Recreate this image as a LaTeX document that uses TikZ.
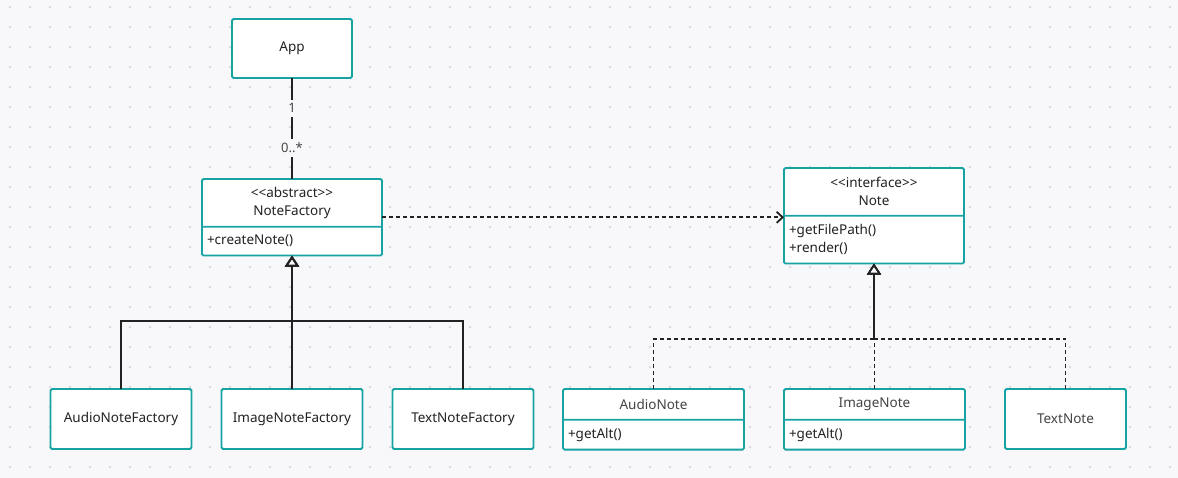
\documentclass[tikz,border=0pt]{standalone}
\usepackage{fontspec}
\setmainfont{Noto Sans}
\usetikzlibrary{positioning,arrows.meta,shapes.multipart}
\definecolor{canvas}{HTML}{F8F8FA}
\definecolor{dotc}{HTML}{D9D9DE}
\definecolor{tealc}{HTML}{17A3A3}
\definecolor{ink}{HTML}{222222}
\definecolor{soft}{HTML}{444444}
\newcommand\stereo[1]{<\kern0pt<#1>\kern0pt>}

\begin{document}
\begin{tikzpicture}[x=1pt, y=-1pt, font=\fontsize{13.5}{18}\selectfont, text=ink]
\tikzstyle{cls}=[draw=tealc, line width=1.8pt, fill=white, rounded corners=1.5pt, inner sep=0pt, outer sep=0pt]
\tikzstyle{box}=[cls, minimum width=141pt, minimum height=60pt]
\tikzstyle{umlcls}=[cls, rectangle split, rectangle split parts=2]
\tikzstyle{mult}=[fill=canvas, inner sep=4pt, text=soft, font=\fontsize{13}{15}\selectfont]
\tikzstyle{assoc}=[draw=ink, line width=2pt]
\tikzstyle{dep}=[draw=ink, line width=1.8pt, dash pattern=on 4pt off 3pt, -{Straight Barb[length=6pt, width=11pt]}]
\tikzstyle{inh}=[draw=ink, line width=1.8pt, -{Triangle[open, length=11pt, width=14pt]}]
\tikzstyle{real}=[inh, line width=1.6pt, dash pattern=on 4pt off 3pt]

% canvas with dot grid
\fill[canvas] (0,0) rectangle (1178,478);
\foreach \x in {10,30,...,1170}{\foreach \y in {7,27,...,467}{\fill[dotc] (\x,\y) circle[radius=1.3pt];}}

% factories
\node[umlcls, anchor=north] (NoteFactory) at (292,179) {\parbox[c][46pt][c]{180pt}{\centering\stereo{abstract}\\NoteFactory}\nodepart{two}\parbox[c][27pt][c]{180pt}{\hspace*{5pt}+createNote()}};
\node[box, minimum width=120pt, minimum height=59pt, above=101pt of NoteFactory] (App) {App};
\node[box] (AudioNoteFactory) at (121,419) {AudioNoteFactory};
\node[box, right=30pt of AudioNoteFactory] (ImageNoteFactory) {ImageNoteFactory};
\node[box, right=30pt of ImageNoteFactory] (TextNoteFactory) {TextNoteFactory};

% notes
\node[umlcls, anchor=north] (Note) at (874,168) {\parbox[c][46pt][c]{180pt}{\centering\stereo{interface}\\Note}\nodepart{two}\parbox[c][46pt][c]{180pt}{\raggedright\hspace*{5pt}+getFilePath()\\\hspace*{5pt}+render()}};
\node[umlcls, anchor=north] (AudioNote) at (653.5,389) {\parbox[c][29pt][c]{181pt}{\centering\color{soft}AudioNote}\nodepart{two}\parbox[c][28pt][c]{181pt}{\hspace*{5pt}+getAlt()}};
\node[umlcls, right=40pt of AudioNote] (ImageNote) {\parbox[c][29pt][c]{181pt}{\centering\color{soft}ImageNote}\nodepart{two}\parbox[c][28pt][c]{181pt}{\hspace*{5pt}+getAlt()}};
\node[box, minimum width=121pt, text=soft, right=40pt of ImageNote.north east, anchor=north west] (TextNote) {TextNote};

\coordinate (fbus) at (292,321);
\coordinate (nbus) at (874,339);

\draw[assoc] (App) -- node[mult, pos=.3]{1} node[mult, pos=.69]{0..*} (NoteFactory);
\draw[dep] (NoteFactory.east) -- (NoteFactory.east -| Note.west);
\foreach \sub in {AudioNoteFactory,ImageNoteFactory,TextNoteFactory}{\draw[inh] (\sub.north) |- (fbus) -| (NoteFactory.south);}
\foreach \sub in {AudioNote,ImageNote,TextNote}{\draw[real] (\sub.north) |- (nbus) -| (Note.south);}
\end{tikzpicture}
\end{document}
